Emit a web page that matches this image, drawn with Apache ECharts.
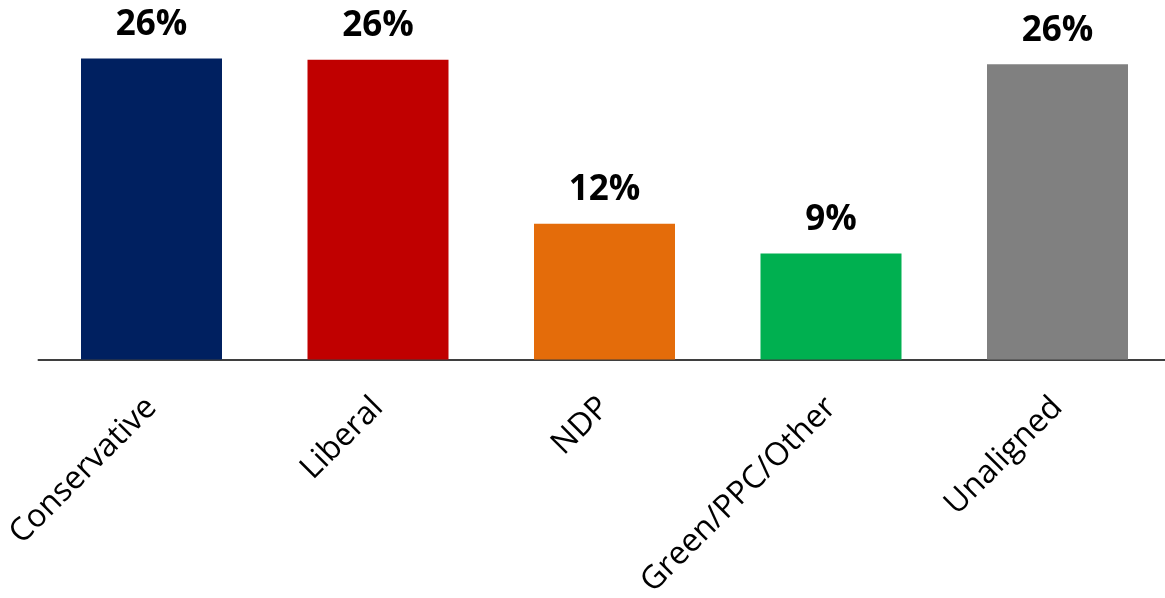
<!DOCTYPE html>
<html>
<head>
<meta charset="utf-8">
<script src="https://cdn.jsdelivr.net/npm/echarts@6/dist/echarts.min.js"></script>
<style>
html,body{margin:0;padding:0;background:#fff;}
#chart{width:1165px;height:598px;}
</style>
</head>
<body>
<div id="chart"></div>
<script>
const categories = ['Conservative', 'Liberal', 'NDP', 'Green/PPC/Other', 'Unaligned'];
const values = [26.4, 26.3, 11.9, 9.3, 25.9];
const colors = ['#002060', '#C00000', '#E46C0A', '#00B050', '#808080'];

const chart = echarts.init(document.getElementById('chart'));
chart.setOption({
  animation: false,
  grid: { left: 38.25, width: 1132.5, top: 17.5, bottom: 238.5, containLabel: false, outerBoundsMode: 'none' },
  xAxis: {
    type: 'category',
    data: categories,
    axisLine: { show: true, lineStyle: { color: '#000', width: 1.5 } },
    axisTick: { show: false },
    axisLabel: {
      interval: 0,
      rotate: 45,
      margin: 43,
      color: '#000',
      fontFamily: 'Open Sans',
      fontSize: 32
    }
  },
  yAxis: {
    type: 'value',
    min: 0,
    max: 30,
    show: false,
    splitLine: { show: false }
  },
  series: [{
    type: 'bar',
    barWidth: 141,
    data: values.map((v, i) => ({ value: v, itemStyle: { color: colors[i] } })),
    label: {
      show: true,
      position: 'top',
      distance: 16,
      color: '#000',
      fontFamily: 'Open Sans',
      fontWeight: 'bold',
      fontSize: 35,
      formatter: p => Math.round(p.value) + '%'
    }
  }]
});
</script>
</body>
</html>
